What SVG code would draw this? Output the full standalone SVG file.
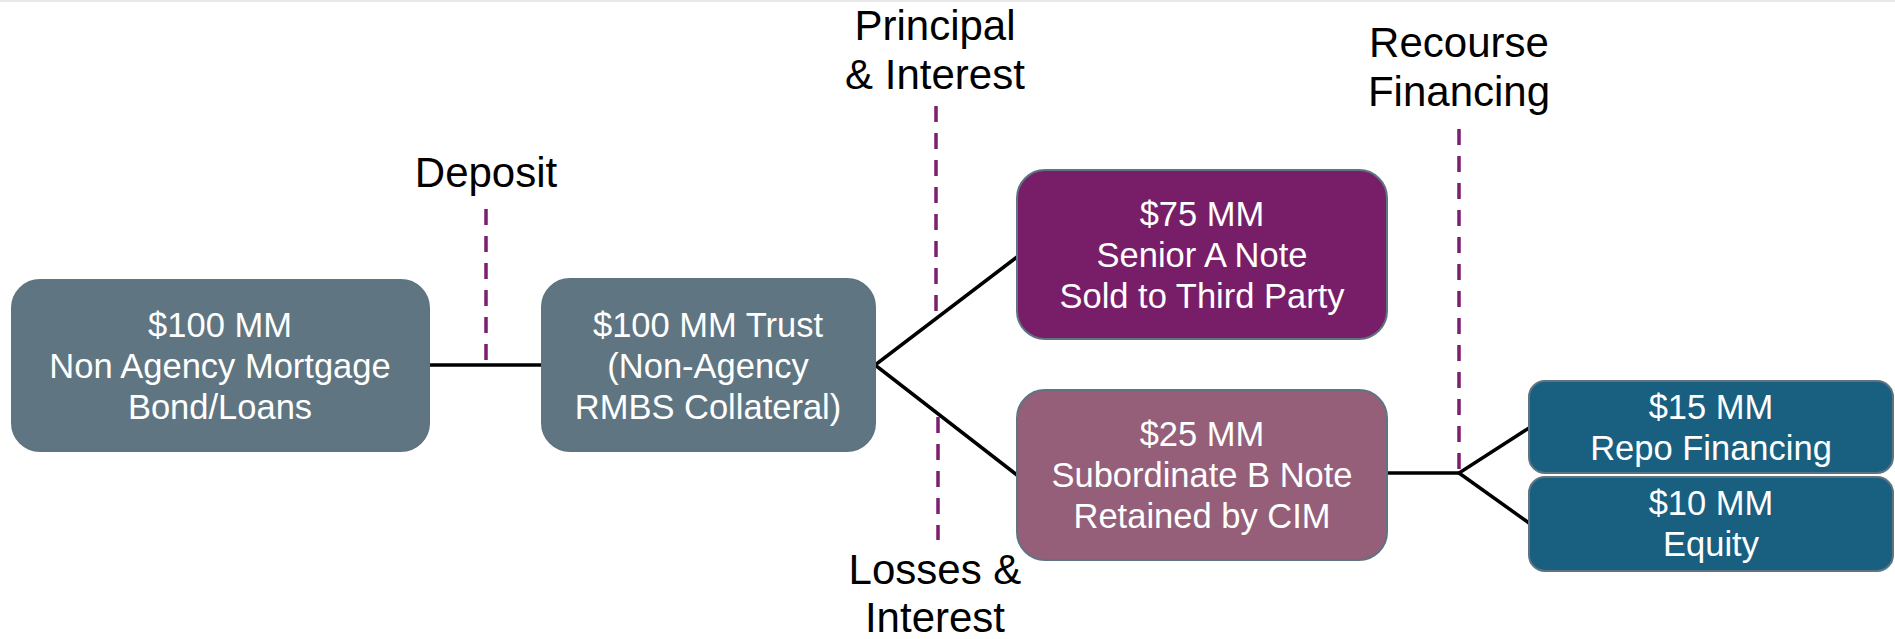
<svg xmlns="http://www.w3.org/2000/svg" width="1895" height="639" viewBox="0 0 1895 639">
<style>
.box{stroke:#5E7480;stroke-width:2}
.slate{fill:#5F7682}
.purple{fill:#781E69}
.mauve{fill:#955F7A}
.teal{fill:#195F80}
.bt{font-family:"Liberation Sans",Arial,sans-serif;font-size:34.5px;fill:#ffffff;text-anchor:middle}
.lbl{font-family:"Liberation Sans",Arial,sans-serif;font-size:42px;fill:#000000;text-anchor:middle}
.conn{stroke:#000000;stroke-width:3.5;fill:none}
.dash{stroke:#7B1F6E;stroke-width:3.5;stroke-dasharray:16 11;fill:none}
</style>
<rect x="0" y="0" width="1895" height="639" fill="#ffffff"/>
<rect x="0" y="0" width="1895" height="2" fill="#e8e8e8"/>
<g id="connectors">
<line class="conn" x1="429" y1="365" x2="542" y2="365"/>
<polyline class="conn" points="1017,257 875,365 1017,475"/>
<line class="conn" x1="1387" y1="473" x2="1459" y2="473"/>
<polyline class="conn" points="1529,428 1459,473 1529,523"/>
</g>
<g id="dividers">
<line class="dash" x1="486" y1="209" x2="486" y2="365"/>
<line class="dash" x1="936" y1="106" x2="936" y2="318"/>
<line class="dash" x1="938" y1="417" x2="938" y2="540"/>
<line class="dash" x1="1459" y1="129" x2="1459" y2="473"/>
</g>
<g id="labels">
<text class="lbl" x="486" y="187">Deposit</text>
<text class="lbl" x="935" y="40">Principal</text>
<text class="lbl" x="935" y="89">&amp; Interest</text>
<text class="lbl" x="935" y="584">Losses &amp;</text>
<text class="lbl" x="935" y="632">Interest</text>
<text class="lbl" x="1459" y="57">Recourse</text>
<text class="lbl" x="1459" y="106">Financing</text>
</g>
<g id="node-collateral">
<rect class="box slate" x="12" y="280" width="417" height="171" rx="28"/>
<text class="bt" x="220" y="337">$100 MM</text>
<text class="bt" x="220" y="378">Non Agency Mortgage</text>
<text class="bt" x="220" y="419">Bond/Loans</text>
</g>
<g id="node-trust">
<rect class="box slate" x="542" y="279" width="333" height="172" rx="28"/>
<text class="bt" x="708" y="337">$100 MM Trust</text>
<text class="bt" x="708" y="378">(Non-Agency</text>
<text class="bt" x="708" y="419">RMBS Collateral)</text>
</g>
<g id="node-senior">
<rect class="box purple" x="1017" y="170" width="370" height="169" rx="28"/>
<text class="bt" x="1202" y="226">$75 MM</text>
<text class="bt" x="1202" y="267">Senior A Note</text>
<text class="bt" x="1202" y="308">Sold to Third Party</text>
</g>
<g id="node-sub">
<rect class="box mauve" x="1017" y="390" width="370" height="170" rx="28"/>
<text class="bt" x="1202" y="446">$25 MM</text>
<text class="bt" x="1202" y="487">Subordinate B Note</text>
<text class="bt" x="1202" y="528">Retained by CIM</text>
</g>
<g id="node-repo">
<rect class="box teal" x="1529" y="381" width="364" height="92" rx="16"/>
<text class="bt" x="1711" y="419">$15 MM</text>
<text class="bt" x="1711" y="460">Repo Financing</text>
</g>
<g id="node-equity">
<rect class="box teal" x="1529" y="477" width="364" height="94" rx="16"/>
<text class="bt" x="1711" y="515">$10 MM</text>
<text class="bt" x="1711" y="556">Equity</text>
</g>
</svg>
